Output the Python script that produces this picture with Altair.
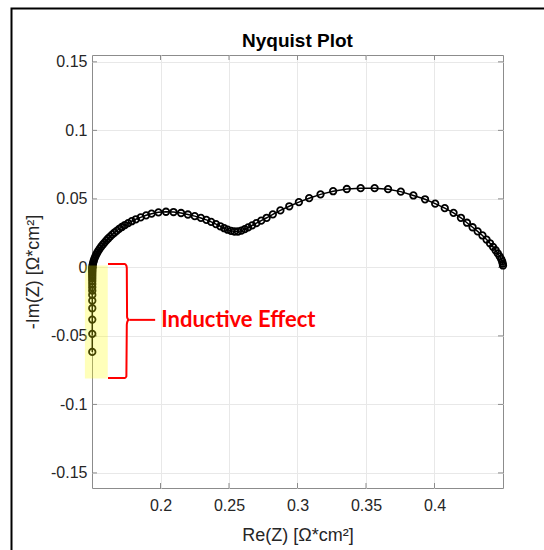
import altair as alt
import pandas as pd

# ---- data ----
RE = [
    0.1502, 0.1502, 0.1502, 0.1502, 0.1502, 0.1502, 0.1502, 0.1502, 0.1502,
    0.1502, 0.1502, 0.1502, 0.1502, 0.1502, 0.1502, 0.1502, 0.1502, 0.1502,
    0.1503, 0.1504, 0.1506, 0.1509, 0.1513, 0.1518, 0.1524, 0.1531, 0.1539,
    0.1548, 0.1558, 0.1569, 0.1581, 0.1593, 0.1605, 0.1618, 0.1632, 0.1647,
    0.1663, 0.1680, 0.1698, 0.1718, 0.1740, 0.1764, 0.1790, 0.1820, 0.1855,
    0.1895, 0.1935, 0.1985, 0.2040, 0.2095, 0.2150, 0.2200, 0.2250, 0.2295,
    0.2335, 0.2370, 0.2405, 0.2437, 0.2465, 0.2490, 0.2515, 0.2540, 0.2565,
    0.2590, 0.2615, 0.2640, 0.2669, 0.2700, 0.2735, 0.2775, 0.2820, 0.2875,
    0.2940, 0.3010, 0.3085, 0.3168, 0.3260, 0.3360, 0.3461, 0.3563, 0.3661,
    0.3754, 0.3846, 0.3931, 0.4005, 0.4075, 0.4139, 0.4193, 0.4237, 0.4278,
    0.4315, 0.4350, 0.4380, 0.4405, 0.4427, 0.4446, 0.4462, 0.4476, 0.4487,
    0.4494, 0.4498, 0.4500,
]
IM = [
    -0.0617, -0.0485, -0.0381, -0.0298, -0.0243, -0.0201, -0.0170, -0.0145, -0.0121,
    -0.0100, -0.0082, -0.0066, -0.0052, -0.0040, -0.0029, -0.0020, -0.0012, -0.0005,
    0.0000, 0.0010, 0.0022, 0.0035, 0.0049, 0.0064, 0.0079, 0.0094, 0.0109,
    0.0124, 0.0139, 0.0154, 0.0169, 0.0183, 0.0197, 0.0211, 0.0225, 0.0239,
    0.0253, 0.0267, 0.0281, 0.0295, 0.0309, 0.0323, 0.0337, 0.0351, 0.0365,
    0.0380, 0.0392, 0.0402, 0.0406, 0.0404, 0.0397, 0.0386, 0.0374, 0.0361,
    0.0347, 0.0332, 0.0316, 0.0300, 0.0286, 0.0275, 0.0267, 0.0262, 0.0262,
    0.0268, 0.0279, 0.0292, 0.0307, 0.0323, 0.0341, 0.0362, 0.0387, 0.0416,
    0.0446, 0.0476, 0.0505, 0.0533, 0.0556, 0.0572, 0.0578, 0.0578, 0.0571,
    0.0553, 0.0525, 0.0497, 0.0465, 0.0432, 0.0398, 0.0362, 0.0326, 0.0293,
    0.0263, 0.0233, 0.0203, 0.0176, 0.0150, 0.0125, 0.0102, 0.0080, 0.0060,
    0.0043, 0.0028, 0.0014,
]
X_TICKS = [0.2, 0.25, 0.3, 0.35, 0.4]
Y_TICKS = [-0.15, -0.1, -0.05, 0, 0.05, 0.1, 0.15]
X_DOMAIN = [0.15, 0.45]
Y_DOMAIN = [-0.161, 0.155]
TITLE = "Nyquist Plot"
X_TITLE = "Re(Z) [Ω*cm²]"
Y_TITLE = "-Im(Z) [Ω*cm²]"

# annotation (data units)
HIGHLIGHT_X = [0.1448, 0.1615]
HIGHLIGHT_Y = [0.0013, -0.081]
BRACE_X = [0.1617, 0.1738, 0.1751, 0.1754, 0.1756, 0.1762, 0.1772,
           0.1762, 0.1756, 0.1754, 0.1751, 0.1738, 0.1617]
BRACE_Y = [0.0025, 0.0025, 0.0012, -0.0005, -0.0362, -0.0377, -0.0383,
           -0.0389, -0.0404, -0.0420, -0.0795, -0.0808, -0.0808]
NUB_X = [0.1772, 0.1961]
NUB_Y = [-0.0383, -0.0383]
LABEL_TEXT = "Inductive Effect"
LABEL_X = 0.2005
LABEL_Y = -0.0383

W, H = 411, 433
FONT = "Liberation Sans"
TXT = "#262626"

curve = pd.DataFrame({"re": RE, "im": IM, "idx": list(range(len(RE)))})
xs = alt.Scale(domain=X_DOMAIN, nice=False, zero=False)
ys = alt.Scale(domain=Y_DOMAIN, nice=False, zero=False)

label_expr = "'' + datum.value"
common = dict(labelFont=FONT, labelFontSize=16, labelColor=TXT,
              titleFont=FONT, titleFontSize=18, titleColor=TXT,
              titleFontWeight="normal", grid=True, gridColor="#e8e8e8",
              gridWidth=1, ticks=False, domain=False)
XAX = alt.Axis(values=X_TICKS, title=X_TITLE, labelExpr=label_expr,
               labelPadding=9, titleX=W / 2, titleY=52, titleBaseline="alphabetic",
               titleAlign="center", **common)
YAX = alt.Axis(values=Y_TICKS, title=Y_TITLE, labelExpr=label_expr,
               labelPadding=5, titleX=-54, titleY=H / 2, titleAngle=-90,
               titleBaseline="alphabetic", titleAlign="center", **common)


def X(f):
    return alt.X(f, scale=xs, axis=XAX)


def Y(f):
    return alt.Y(f, scale=ys, axis=YAX)


base_line = alt.Chart(curve).mark_line(color="black", strokeWidth=1.5).encode(
    x=X("re:Q"), y=Y("im:Q"), order="idx:Q",
)

pts = alt.Chart(curve).mark_point(
    shape="circle", filled=False, color="black", strokeWidth=1.8, size=42, opacity=1
).encode(x=X("re:Q"), y=Y("im:Q"))

# inward ticks (MATLAB style) on all four sides
ytick_df = pd.DataFrame({"im": Y_TICKS})
xtick_df = pd.DataFrame({"re": X_TICKS})
tick_col = "#8c8c8c"
yt_left = alt.Chart(ytick_df).mark_rule(color=tick_col, strokeWidth=1).encode(
    y=Y("im:Q"), x=alt.value(0), x2=alt.value(5))
yt_right = alt.Chart(ytick_df).mark_rule(color=tick_col, strokeWidth=1).encode(
    y=Y("im:Q"), x=alt.value(W - 5), x2=alt.value(W))
xt_bot = alt.Chart(xtick_df).mark_rule(color=tick_col, strokeWidth=1).encode(
    x=X("re:Q"), y=alt.value(H - 5), y2=alt.value(H))
xt_top = alt.Chart(xtick_df).mark_rule(color=tick_col, strokeWidth=1).encode(
    x=X("re:Q"), y=alt.value(0), y2=alt.value(5))

hl_df = pd.DataFrame({"re": [HIGHLIGHT_X[0]], "re2": [HIGHLIGHT_X[1]],
                      "im": [HIGHLIGHT_Y[0]], "im2": [HIGHLIGHT_Y[1]]})
highlight = alt.Chart(hl_df).mark_rect(color="#ffff00", opacity=0.27).encode(
    x=X("re:Q"), x2="re2:Q", y=Y("im:Q"), y2="im2:Q",
)

brace_df = pd.DataFrame({"re": BRACE_X, "im": BRACE_Y, "o": list(range(len(BRACE_X)))})
brace = alt.Chart(brace_df).mark_line(color="#ff0000", strokeWidth=2,
                                      interpolate="monotone").encode(
    x=X("re:Q"), y=Y("im:Q"), order="o:Q",
)
nub_df = pd.DataFrame({"re": NUB_X, "im": NUB_Y})
nub = alt.Chart(nub_df).mark_line(color="#ff0000", strokeWidth=2).encode(
    x=X("re:Q"), y=Y("im:Q"),
)

lab_df = pd.DataFrame({"re": [LABEL_X], "im": [LABEL_Y], "t": [LABEL_TEXT]})
label = alt.Chart(lab_df).mark_text(
    color="#ff0000", font="Lato", fontWeight="bold", fontSize=22,
    align="left", baseline="middle"
).encode(x=X("re:Q"), y=Y("im:Q"), text="t:N")

title_df = pd.DataFrame({"t": [TITLE]})
title = alt.Chart(title_df).mark_text(
    font=FONT, fontSize=19, fontWeight="bold", color="black",
    align="center", baseline="alphabetic"
).encode(x=alt.value(W / 2), y=alt.value(-8), text="t:N")

border = alt.Chart(pd.DataFrame({"a": [0]})).mark_rect(
    fillOpacity=0, stroke="black", strokeWidth=2
).encode(
    x=alt.value(-80.5), x2=alt.value(480), y=alt.value(-46.5), y2=alt.value(530)
)

chart = alt.layer(
    base_line, yt_left, yt_right, xt_bot, xt_top, pts, highlight, brace, nub, label,
    title, border
).properties(
    width=W, height=H,
    background="white",
    padding={"left": 92, "top": 55, "right": 41, "bottom": 62},
    autosize=alt.AutoSizeParams(type="none"),
).configure_view(
    stroke="#8c8c8c", strokeWidth=1
)

chart.save("out.html", embed_options={"renderer": "svg", "actions": False})
